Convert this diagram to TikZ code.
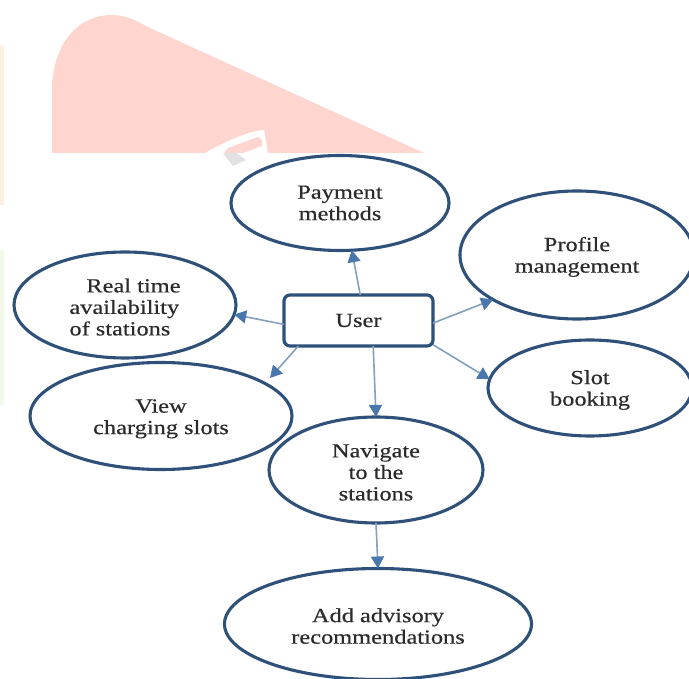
\documentclass[tikz,border=0pt]{standalone}
\usepackage{fontspec}
\setmainfont[FakeStretch=1.22,FakeBold=0.4]{Liberation Serif}
\usetikzlibrary{arrows.meta,shapes.geometric}
\definecolor{edgeblue}{HTML}{2F5078}
\definecolor{linkblue}{HTML}{84A0BF}
\definecolor{tipblue}{HTML}{4A78AD}
\definecolor{inkgrey}{HTML}{2B2B2B}
\definecolor{wmpink}{HTML}{FFD5D0}
\definecolor{wmorange}{HTML}{FFF1E2}
\definecolor{wmgreen}{HTML}{F1FAE8}
\definecolor{wmgrey}{HTML}{E2E2E2}
\newcommand\dropstrut[1]{\rule{0pt}{#1}}
\tikzset{
  bubble/.style={ellipse,draw=edgeblue,line width=3.1pt,fill=white,inner sep=0pt,outer sep=0pt,
    text=inkgrey,font=\fontsize{20}{21.5}\selectfont,align=center},
  userbox/.style={rectangle,rounded corners=6pt,draw=edgeblue,line width=3.2pt,fill=white,inner sep=0pt,outer sep=0pt,
    text=inkgrey,font=\fontsize{20}{21.5}\selectfont},
  link/.style={draw=linkblue,line width=1.6pt,-{Triangle[length=12pt,width=13pt,color=tipblue,fill=tipblue]}}
}
\begin{document}
\begin{tikzpicture}[x=1pt,y=-1pt]
\useasboundingbox (0,0) rectangle (689,679);
\fill[white] (0,0) rectangle (689,679);
% watermark fragments
\fill[wmorange] (0,45) rectangle (4,205);
\fill[wmgreen] (0,250) rectangle (4,405);
\fill[wmpink] (52,153) -- (52,85) .. controls (55,40) and (80,15) .. (112,15)
  .. controls (125,15) and (135,20) .. (150,28) -- (424,153) -- cycle;
\fill[white] (205,153) .. controls (225,142) and (245,132) .. (264,130) -- (268,153) -- cycle;
\fill[wmpink] (224,153) -- (228,148) -- (258,137) -- (262,141) -- (262,146) -- (243,153) -- cycle;
\fill[wmgrey] (223,153) -- (236,153) -- (246,160) -- (233,166) -- cycle;
% nodes
\node[bubble,minimum width=218pt,minimum height=95pt] (pay) at (340,203) {Payment\\methods};
\node[bubble,minimum width=234pt,minimum height=128pt] (prof) at (577,255) {\dropstrut{18pt}Profile\\management};
\node[bubble,minimum width=204pt,minimum height=96pt] (slot) at (590,388) {\dropstrut{18pt}Slot\\booking};
\node[bubble,minimum width=222pt,minimum height=106pt,align=left] (real) at (125,305) {\dropstrut{18pt}\hspace*{17pt}Real  time\\availability\\of stations};
\node[bubble,minimum width=262pt,minimum height=107pt] (view) at (161,416) {\dropstrut{19pt}View\\charging slots};
\node[bubble,minimum width=214pt,minimum height=106pt] (nav) at (376,470) {\dropstrut{18pt}Navigate\\to the\\stations};
\node[bubble,minimum width=307pt,minimum height=111pt] (add) at (378,624) {\dropstrut{18pt}Add advisory\\recommendations};
\node[userbox,minimum width=149pt,minimum height=51pt] (user) at (358.5,320.5) {User};
\coordinate (viewtip) at (270,378);
% connectors
\draw[link] (user.86) -- (pay.-76);
\draw[link] (user.183.5) -- (real.-5);
\draw[link] (user.203) -- (viewtip);
\draw[link] (user.-60) -- (nav.north);
\draw[link] (user.-2) -- (prof.208);
\draw[link] (user.-18) -- (slot.175);
\draw[link] (nav.south) -- (add.north);
\end{tikzpicture}
\end{document}
